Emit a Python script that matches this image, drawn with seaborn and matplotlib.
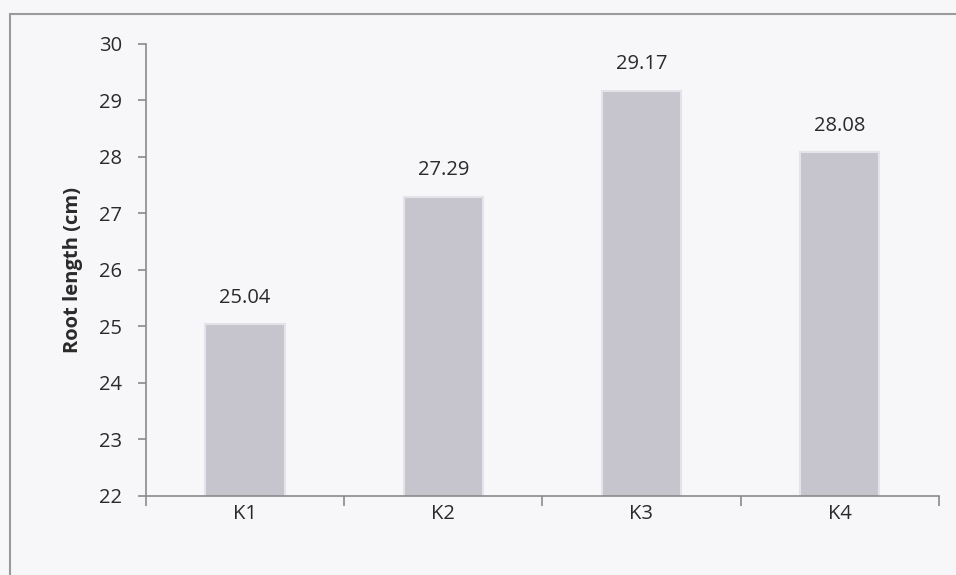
import matplotlib
matplotlib.use("Agg")
import matplotlib.pyplot as plt
import seaborn as sns
import pandas as pd
from matplotlib.patches import Rectangle

categories = ["K1", "K2", "K3", "K4"]
root_length = [25.04, 27.29, 29.17, 28.08]
y_ticks = [22, 23, 24, 25, 26, 27, 28, 29, 30]

df = pd.DataFrame({"treatment": categories, "root_length": root_length})

sns.set_style("white")
plt.rcParams["font.family"] = ["Open Sans", "DejaVu Sans"]

txt = "#2a2a2a"
fig = plt.figure(figsize=(9.56, 5.75), dpi=100, facecolor="#f7f7fa")
ax = fig.add_axes([0.1527, 0.1374, 0.8293, 0.7861])
ax.set_facecolor("#f7f7fa")

sns.barplot(data=df, x="treatment", y="root_length", color="#c6c4cd",
            width=0.4, edgecolor="#e4e3ea", linewidth=1.5, saturation=1, ax=ax)

ax.set_ylim(22, 30)
ax.set_xlim(-0.5, 3.5)
ax.set_yticks(y_ticks)
ax.set_yticklabels([str(t) for t in y_ticks], fontsize=14.5, color=txt)
ax.set_xticklabels(categories, fontsize=14.5, color=txt)
ax.set_xlabel("")
ax.set_ylabel("Root length (cm)", fontsize=14.5, fontweight="bold", color=txt, labelpad=12)

ax.bar_label(ax.containers[0], fmt="%.2f", padding=12, fontsize=14.5, color=txt)

for side in ["top", "right"]:
    ax.spines[side].set_visible(False)
for side in ["left", "bottom"]:
    ax.spines[side].set_color("#8a8a8a")
    ax.spines[side].set_linewidth(1.2)

ax.tick_params(axis="y", which="major", length=6, width=1.2, color="#8a8a8a", direction="out", pad=11, left=True)
ax.tick_params(axis="x", which="major", length=0, pad=6)
ax.set_xticks([-0.5, 0.5, 1.5, 2.5, 3.5], minor=True)
ax.tick_params(axis="x", which="minor", length=7, width=1.2, color="#8a8a8a", direction="out", bottom=True)

# outer chart frame
fig.patches.append(Rectangle((0.0105, -0.05), 1.2, 1.0257, transform=fig.transFigure,
                             fill=False, edgecolor="#9a9a9a", linewidth=1.5))

fig.savefig("out.png", dpi=100, facecolor=fig.get_facecolor())
